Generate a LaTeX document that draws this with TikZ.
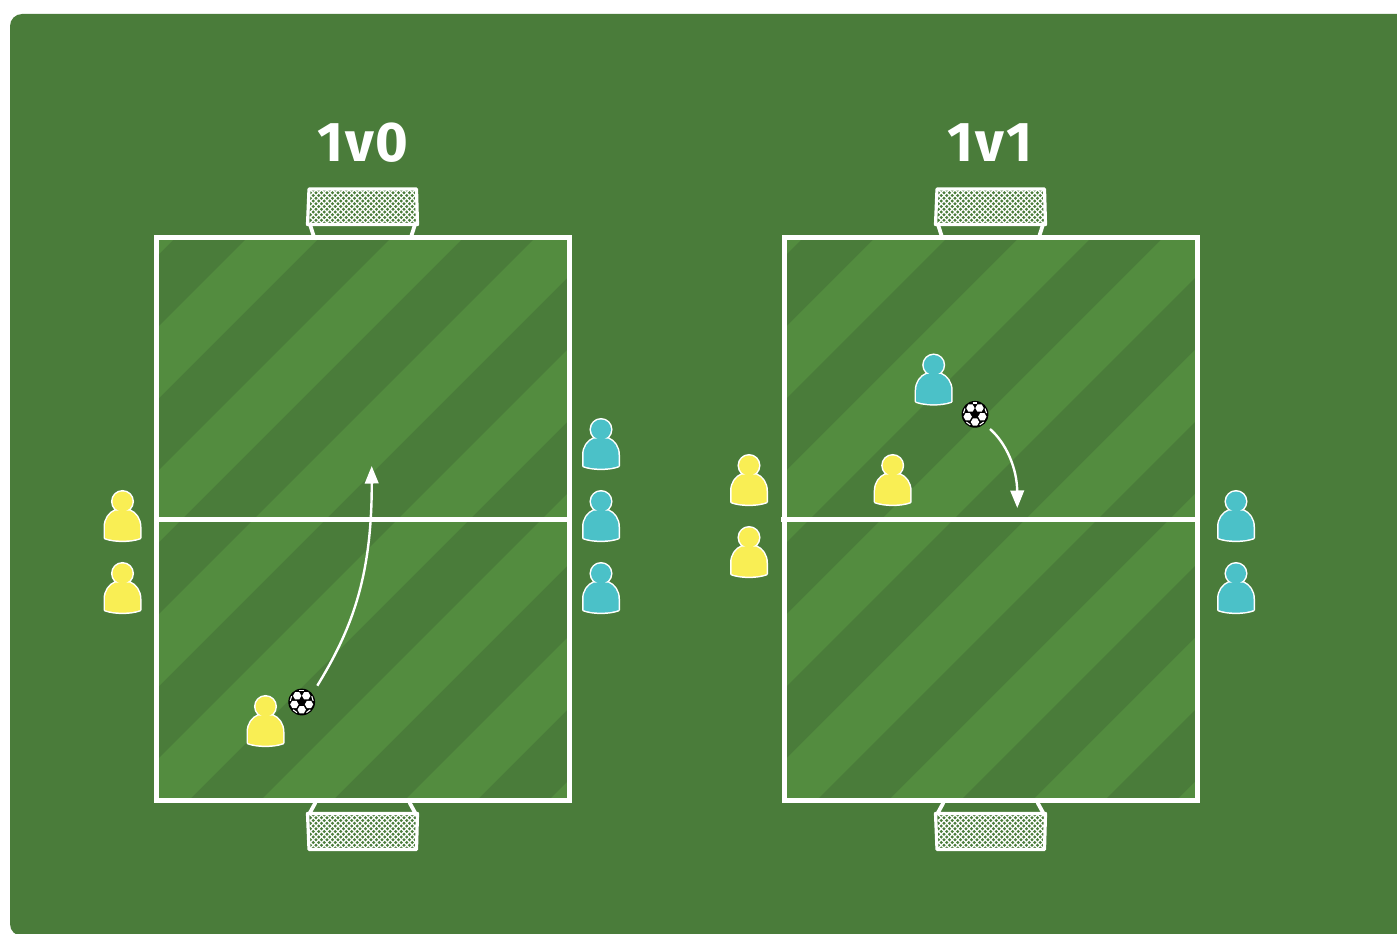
\documentclass[tikz,border=0pt]{standalone}
\usepackage{fontspec}
\setmainfont{Fira Sans}
\usetikzlibrary{arrows.meta}
\definecolor{grassdark}{HTML}{4A7C3A}
\definecolor{grasslight}{HTML}{538C3F}
\definecolor{kityellow}{HTML}{F9EE54}
\definecolor{kitblue}{HTML}{4BC1C8}
\tikzset{
  x=1pt,y=-1pt,
  line/.style={draw=white,line width=5pt,line join=miter},
  frame/.style={draw=white,line width=3.2pt,line join=round,line cap=round},
  support/.style={draw=white,line width=3.8pt},
  run/.style={draw=white,line width=2.4pt,-{Triangle[width=13.5pt,length=17.5pt]}},
  title/.style={text=white,font=\fontsize{56}{56}\selectfont\bfseries\addfontfeatures{LetterSpace=3},inner sep=0pt,anchor=center},
  pics/player/.style={code={
    \def\bodypath{(-17.5,36) -- (-17.5,25) .. controls (-17.5,17) and (-13,11) .. (-7,8.5) -- (7,8.5) .. controls (13,11) and (17.5,17) .. (17.5,25) -- (17.5,36) .. controls (8,39.5) and (-8,39.5) .. cycle}
    \draw[white,line width=3pt,line join=round] \bodypath;
    \draw[white,line width=3pt] (0,-0.5) circle (10);
    \fill[#1] \bodypath;
    \fill[#1] (0,-0.5) circle (10);
  }},
  pics/ball/.style={code={
    \fill[black] (0,0) circle (13.4);
    \foreach \t in {-18,54,126,198,270} {
      \fill[white,shift={(\t+72-36:7.7)}] (0:4.2) -- (60:4.2) -- (120:4.2) -- (180:4.2) -- (240:4.2) -- (300:4.2) -- cycle;
      \draw[white,line width=1.1pt] (\t-12:11.6) arc[start angle=\t-12,end angle=\t+12,radius=11.6];
    }
  }},
  pics/pitch/.style={code={
    \begin{scope}
      \clip (0,0) rectangle (413,563);
      \fill[grassdark] (0,0) rectangle (413,563);
      \foreach \k in {-1,...,6} {
        \pgfmathsetmacro{\a}{91+144*\k}
        \fill[grasslight] (\a,0) -- (\a+72,0) -- (\a+72-600,600) -- (\a-600,600) -- cycle;
      }
    \end{scope}
    \draw[line] (0,0) rectangle (413,563);
    \draw[line] (0,281.5) -- (413,281.5);
  }},
  pics/goaltop/.style={code={
    \begin{scope}
      \clip (-53,-47.5) rectangle (54,-14.5);
      \foreach \k in {-18,...,36} {
        \pgfmathsetmacro{\a}{5.5*\k}
        \draw[white,line width=1.1pt] (\a-60,-50) -- (\a,10);
        \draw[white,line width=1.1pt] (\a,-50) -- (\a-60,10);
      }
    \end{scope}
    \draw[frame] (-53.5,-48.5) -- (54,-48.5) -- (55,-13) -- (-55,-13) -- cycle;
    \draw[support] (-52.5,-13) -- (-49,-2);
    \draw[support] (52.5,-13) -- (49,-2);
  }},
  pics/goalbottom/.style={code={
    \begin{scope}
      \clip (-53,15) rectangle (54,47.5);
      \foreach \k in {-18,...,36} {
        \pgfmathsetmacro{\a}{5.5*\k}
        \draw[white,line width=1.1pt] (\a-60,-10) -- (\a,50);
        \draw[white,line width=1.1pt] (\a,-10) -- (\a-60,50);
      }
    \end{scope}
    \draw[frame] (-55,13) -- (55,13) -- (54,49) -- (-53.5,49) -- cycle;
    \draw[support] (-53,13) -- (-47,2);
    \draw[support] (53,13) -- (47,2);
  }},
}
\begin{document}
\begin{tikzpicture}
\useasboundingbox (0,0) rectangle (1397,934);
\clip (0,0) rectangle (1397,934);
\fill[white] (0,0) rectangle (1397,934);
\fill[grassdark,rounded corners=12pt] (10,14) rectangle (1430,936);

% pitches
\pic at (156.7,237.5) {pitch};
\pic at (784.3,237.5) {pitch};
\draw[line] (781,519) -- (790,519);

% goals
\pic at (362.5,237.5) {goaltop};
\pic at (990.5,237.5) {goaltop};
\pic at (362.5,800.5) {goalbottom};
\pic at (990.5,800.5) {goalbottom};

% titles
\node[title] (t1) at (363,143) {1v0};
\node[title] (t2) at (990,143) {1v1};

% players, left drill
\pic at (122.5,502) {player=kityellow};
\pic at (122.5,574) {player=kityellow};
\pic at (601,430) {player=kitblue};
\pic at (601,502) {player=kitblue};
\pic at (601,574) {player=kitblue};
\pic at (265.5,707) {player=kityellow};
\pic at (301.7,702) {ball};

% players, right drill
\pic at (749,466) {player=kityellow};
\pic at (749,538) {player=kityellow};
\pic at (892.7,466) {player=kityellow};
\pic at (933.7,365.5) {player=kitblue};
\pic at (1236,502) {player=kitblue};
\pic at (1236,574) {player=kitblue};
\pic at (975,414.3) {ball};

% runs
\coordinate (s1) at (317.3,685.7);
\coordinate (e1) at (371.7,466);
\draw[run] (s1) .. controls (350,632) and (372,580) .. (e1);
\coordinate (s2) at (990,429);
\coordinate (e2) at (1017.3,508);
\draw[run] (s2) .. controls (1006,443) and (1017,468) .. (e2);
\end{tikzpicture}
\end{document}
